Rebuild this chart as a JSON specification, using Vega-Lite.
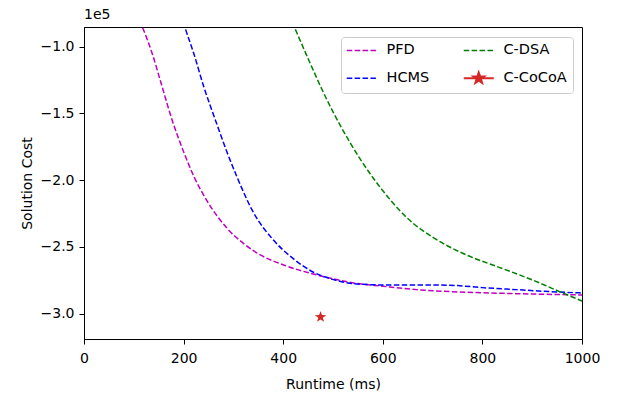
{
  "$schema": "https://vega.github.io/schema/vega-lite/v6.json",
  "width": 498,
  "height": 312,
  "autosize": {"type": "none"},
  "padding": {"left": 84, "top": 27, "right": 38, "bottom": 61},
  "background": "white",
  "title": {"text": "1e5", "anchor": "start", "frame": "group", "fontSize": 14, "font": "DejaVu Sans", "fontWeight": "normal", "offset": 5, "color": "black"},
  "config": {
    "font": "DejaVu Sans",
    "view": {"stroke": "black", "strokeWidth": 1},
    "axis": {"domainColor": "black", "tickColor": "black", "labelColor": "black", "titleColor": "black", "labelFont": "DejaVu Sans", "titleFont": "DejaVu Sans", "labelFontSize": 14, "titleFontSize": 14, "titleFontWeight": "normal", "tickSize": 5, "grid": false, "domainWidth": 1, "labelFlush": false}
  },
  "data": {"values": [
    {"series": "PFD", "runtime": 105, "cost": -75000},
    {"series": "PFD", "runtime": 118.8, "cost": -86700},
    {"series": "PFD", "runtime": 136.9, "cost": -105000},
    {"series": "PFD", "runtime": 156.9, "cost": -130000},
    {"series": "PFD", "runtime": 177, "cost": -155000},
    {"series": "PFD", "runtime": 200.4, "cost": -179000},
    {"series": "PFD", "runtime": 220.4, "cost": -197000},
    {"series": "PFD", "runtime": 247.1, "cost": -215500},
    {"series": "PFD", "runtime": 287.2, "cost": -236000},
    {"series": "PFD", "runtime": 320.6, "cost": -247500},
    {"series": "PFD", "runtime": 354.1, "cost": -256000},
    {"series": "PFD", "runtime": 400.8, "cost": -263500},
    {"series": "PFD", "runtime": 467.5, "cost": -271000},
    {"series": "PFD", "runtime": 501, "cost": -274000},
    {"series": "PFD", "runtime": 541, "cost": -277000},
    {"series": "PFD", "runtime": 601, "cost": -279500},
    {"series": "PFD", "runtime": 668, "cost": -282000},
    {"series": "PFD", "runtime": 768, "cost": -284000},
    {"series": "PFD", "runtime": 868, "cost": -285000},
    {"series": "PFD", "runtime": 1000, "cost": -286000},
    {"series": "HCMS", "runtime": 190, "cost": -70000},
    {"series": "HCMS", "runtime": 203.8, "cost": -86700},
    {"series": "HCMS", "runtime": 220.4, "cost": -105000},
    {"series": "HCMS", "runtime": 240.5, "cost": -130000},
    {"series": "HCMS", "runtime": 263.9, "cost": -155000},
    {"series": "HCMS", "runtime": 287.2, "cost": -179000},
    {"series": "HCMS", "runtime": 306, "cost": -196500},
    {"series": "HCMS", "runtime": 340.7, "cost": -224500},
    {"series": "HCMS", "runtime": 380.8, "cost": -245000},
    {"series": "HCMS", "runtime": 420.8, "cost": -259000},
    {"series": "HCMS", "runtime": 460.9, "cost": -269000},
    {"series": "HCMS", "runtime": 501, "cost": -274500},
    {"series": "HCMS", "runtime": 541, "cost": -277500},
    {"series": "HCMS", "runtime": 601, "cost": -278500},
    {"series": "HCMS", "runtime": 701, "cost": -278500},
    {"series": "HCMS", "runtime": 750, "cost": -279000},
    {"series": "HCMS", "runtime": 800, "cost": -280500},
    {"series": "HCMS", "runtime": 868, "cost": -282000},
    {"series": "HCMS", "runtime": 935, "cost": -283500},
    {"series": "HCMS", "runtime": 1000, "cost": -284500},
    {"series": "C-DSA", "runtime": 400, "cost": -65000},
    {"series": "C-DSA", "runtime": 424.2, "cost": -86700},
    {"series": "C-DSA", "runtime": 454.3, "cost": -112500},
    {"series": "C-DSA", "runtime": 481, "cost": -134500},
    {"series": "C-DSA", "runtime": 501, "cost": -149500},
    {"series": "C-DSA", "runtime": 534.5, "cost": -172000},
    {"series": "C-DSA", "runtime": 581, "cost": -198500},
    {"series": "C-DSA", "runtime": 614.6, "cost": -214500},
    {"series": "C-DSA", "runtime": 648, "cost": -228000},
    {"series": "C-DSA", "runtime": 701.4, "cost": -243000},
    {"series": "C-DSA", "runtime": 768, "cost": -256000},
    {"series": "C-DSA", "runtime": 835, "cost": -265500},
    {"series": "C-DSA", "runtime": 902, "cost": -275000},
    {"series": "C-DSA", "runtime": 955, "cost": -283500},
    {"series": "C-DSA", "runtime": 1000, "cost": -290500},
    {"series": "C-CoCoA", "runtime": 475, "cost": -302500}
  ]},
  "layer": [
    {"transform": [{"filter": "datum.series !== 'C-CoCoA'"}],
     "mark": {"type": "line", "strokeWidth": 1.5, "strokeDash": [5.5, 2.4], "interpolate": "monotone", "clip": true},
     "encoding": {
      "x": {"field": "runtime", "type": "quantitative",
        "scale": {"domain": [0, 1000], "nice": false},
        "axis": {"values": [0, 200, 400, 600, 800, 1000], "format": "d", "title": "Runtime (ms)", "labelPadding": 7, "titlePadding": 12, "labelFlush": false}},
      "y": {"field": "cost", "type": "quantitative",
        "scale": {"domain": [-319000, -85200], "nice": false, "zero": false},
        "axis": {"values": [-300000, -250000, -200000, -150000, -100000], "labelExpr": "replace(format(datum.value/100000, '.1f'), '-', '\u2212')", "title": "Solution Cost", "labelPadding": 5, "titlePadding": 6, "labelFlush": false}},
      "color": {"field": "series", "type": "nominal",
        "scale": {"domain": ["PFD", "C-DSA", "HCMS", "C-CoCoA"], "range": ["#bf00bf", "#008000", "#0000ff", "#d62728"]},
        "legend": {
          "title": null, "orient": "none", "legendX": 257, "legendY": 10, "columns": 2, "direction": "horizontal",
          "padding": 6, "strokeColor": "#cccccc", "fillColor": "rgba(255,255,255,0.8)", "cornerRadius": 3,
          "labelFontSize": 14.5, "labelFont": "DejaVu Sans", "labelColor": "black",
          "symbolSize": 225, "symbolStrokeWidth": 1.5, "labelOffset": 25, "columnPadding": 29, "rowPadding": 11,
          "symbolType": "M-1,0H3",
          "encode": {"symbols": {"update": {
            "shape": {"signal": "datum.value === 'C-CoCoA' ? 'M-1,0H3M1,-0.76L1.18,-0.25L1.72,-0.235L1.29,0.095L1.447,0.615L1,0.305L0.553,0.615L0.71,0.095L0.28,-0.235L0.82,-0.25Z' : 'M-1,0H3'"},
            "strokeDash": {"signal": "datum.value === 'C-CoCoA' ? [1,0] : [5.5,2.4]"},
            "fill": {"signal": "datum.value === 'C-CoCoA' ? '#d62728' : 'transparent'"},
            "fillOpacity": {"value": 1},
            "strokeWidth": {"signal": "datum.value === 'C-CoCoA' ? 2 : 1.5"}
          }}}
        }}
     }},
    {"transform": [{"filter": "datum.series === 'C-CoCoA'"}],
     "mark": {"type": "point", "shape": "M0,-1L0.235,-0.324L0.951,-0.309L0.38,0.124L0.588,0.809L0,0.4L-0.588,0.809L-0.38,0.124L-0.951,-0.309L-0.235,-0.324Z", "filled": true, "size": 144, "opacity": 1},
     "encoding": {
      "x": {"field": "runtime", "type": "quantitative"},
      "y": {"field": "cost", "type": "quantitative"},
      "color": {"field": "series", "type": "nominal"}
     }}
  ]
}
